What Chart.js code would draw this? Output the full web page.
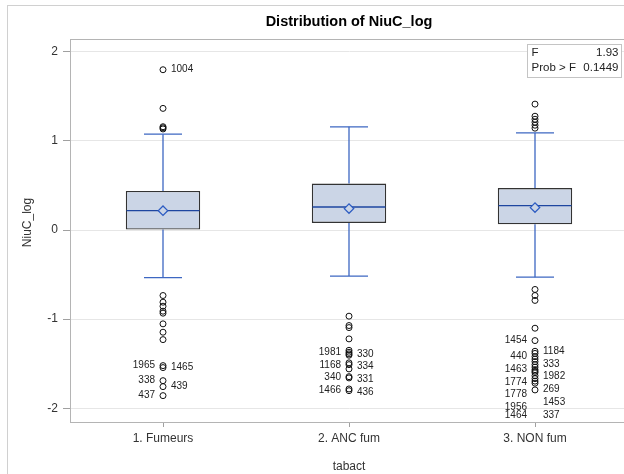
<!DOCTYPE html>
<html><head><meta charset="utf-8">
<script src="https://cdn.jsdelivr.net/npm/chart.js@4"></script>
<style>html,body{margin:0;padding:0;overflow:hidden;background:#fff}#wrap{width:640px;height:474px;position:relative}</style>
</head><body><div id="wrap"><canvas id="c" width="640" height="474"></canvas></div>
<script>
const chartTitle = 'Distribution of NiuC_log';
const xTitle = 'tabact';
const yTitle = 'NiuC_log';
const categories = ['1. Fumeurs', '2. ANC fum', '3. NON fum'];
const yTickValues = [-2, -1, 0, 1, 2];
const q1 = [0.005, 0.079, 0.064];
const medians = [0.218, 0.259, 0.274];
const q3 = [0.439, 0.522, 0.472];
const means = [0.218, 0.241, 0.252];
const whiskerLow = [-0.535, -0.517, -0.529];
const whiskerHigh = [1.077, 1.159, 1.091];

const outlierValuesFumeurs = [1.800, 1.366, 1.160, 1.148, 1.135,
  -0.735, -0.810, -0.855, -0.911, -0.933, -1.053, -1.147, -1.230,
  -1.522, -1.544, -1.691, -1.758, -1.859];
const outlierIdsFumeurs = ['1004', '', '', '', '',
  '', '', '', '', '', '', '', '',
  '1965', '1465', '338', '439', '437'];

const outlierValuesAncFum = [-0.967, -1.072, -1.095, -1.222,
  -1.350, -1.372, -1.390, -1.405, -1.491, -1.511, -1.559, -1.646, -1.660, -1.784, -1.803];
const outlierIdsAncFum = ['', '', '', '',
  '', '1981', '330', '', '1168', '334', '', '340', '331', '1466', '436'];

const outlierValuesNonFum = [1.414, 1.278, 1.244, 1.211, 1.177, 1.144,
  -0.667, -0.735, -0.790, -1.102, -1.241,
  -1.361, -1.385, -1.421, -1.449, -1.477, -1.511, -1.539, -1.567, -1.585, -1.601,
  -1.635, -1.668, -1.696, -1.719, -1.795];
const outlierIdsNonFum = ['', '', '', '', '', '',
  '', '', '', '', '1454',
  '1184', '', '440', '333', '1463', '1982', '1774', '269', '', '1778',
  '1453', '1956', '337', '1464', ''];

const statF = '1.93';
const statProbF = '0.1449';

const outlierGroups = [
  {values: outlierValuesFumeurs, ids: outlierIdsFumeurs},
  {values: outlierValuesAncFum, ids: outlierIdsAncFum},
  {values: outlierValuesNonFum, ids: outlierIdsNonFum}
];

const FONT = '"Liberation Sans", Arial, Helvetica, sans-serif';
const boxFill = '#CBD5E6';
const whiskerColor = '#3D67C2';
const medianColor = '#1E46A0';

const backgroundPlugin = {
  id: 'bg',
  beforeDraw(chart) {
    const {ctx, width, height} = chart;
    ctx.save();
    ctx.fillStyle = '#fff';
    ctx.fillRect(0, 0, width, height);
    ctx.strokeStyle = '#D0D0D0';
    ctx.lineWidth = 1;
    ctx.strokeRect(7.5, 5.5, width + 50, height + 50);
    ctx.restore();
  }
};

const framePlugin = {
  id: 'frame',
  beforeDatasetsDraw(chart) {
    const {ctx, chartArea, scales: {x, y}} = chart;
    ctx.save();
    ctx.strokeStyle = '#B4B4B4';
    ctx.lineWidth = 1;
    ctx.strokeRect(chartArea.left + 0.5, chartArea.top + 0.5, chartArea.right - chartArea.left - 1, chartArea.bottom - chartArea.top);
    ctx.strokeStyle = whiskerColor;
    ctx.lineWidth = 1.3;
    categories.forEach((c, i) => {
      const cx = x.getPixelForValue(i);
      ctx.beginPath();
      ctx.moveTo(cx, y.getPixelForValue(q3[i]));
      ctx.lineTo(cx, y.getPixelForValue(whiskerHigh[i]));
      ctx.moveTo(cx, y.getPixelForValue(q1[i]));
      ctx.lineTo(cx, y.getPixelForValue(whiskerLow[i]));
      ctx.stroke();
    });
    ctx.restore();
  }
};

const overlayPlugin = {
  id: 'overlay',
  afterDatasetsDraw(chart) {
    const {ctx, chartArea, scales: {x, y}} = chart;
    ctx.save();
    // outlier labels
    ctx.font = '10px ' + FONT;
    ctx.fillStyle = '#222';
    ctx.textBaseline = 'middle';
    const gap = 12.7;
    outlierGroups.forEach((grp, g) => {
      const cx = x.getPixelForValue(g);
      const pts = grp.values.map((v, i) => ({v, id: grp.ids[i]})).filter(p => p.id);
      const upper = pts.filter(p => p.v > medians[g]).sort((a, b) => b.v - a.v);
      const lower = pts.filter(p => p.v < medians[g]).sort((a, b) => b.v - a.v);
      const place = (list, startSide) => {
        const last = {left: -Infinity, right: -Infinity};
        list.forEach((p, k) => {
          const side = ((k % 2 === 0) === (startSide === 'left')) ? 'left' : 'right';
          let py = y.getPixelForValue(p.v);
          py = Math.max(py, last[side] + gap);
          py = Math.min(py, chartArea.bottom - 7);
          last[side] = py;
          ctx.textAlign = side === 'left' ? 'right' : 'left';
          ctx.fillText(p.id, side === 'left' ? cx - 8 : cx + 8, py);
        });
      };
      place(upper, 'right');
      place(lower, 'left');
    });
    // inset
    const w = 94, h = 33;
    const left = chartArea.right - 6.5 - w, top = chartArea.top + 5.5;
    ctx.fillStyle = '#fff';
    ctx.fillRect(left, top, w, h);
    ctx.strokeStyle = '#C4C4C4';
    ctx.lineWidth = 1;
    ctx.strokeRect(left, top, w, h);
    ctx.fillStyle = '#222';
    ctx.font = '11.5px ' + FONT;
    ctx.textAlign = 'left';
    ctx.fillText('F', left + 4, top + 8);
    ctx.fillText('Prob > F', left + 4, top + 23.5);
    ctx.textAlign = 'right';
    ctx.fillText(statF, left + w - 3, top + 8);
    ctx.fillText(statProbF, left + w - 3, top + 23.5);
    ctx.restore();
  },
  afterDraw(chart) {
    const {ctx, chartArea} = chart;
    ctx.save();
    ctx.font = 'bold 14.5px ' + FONT;
    ctx.fillStyle = '#000';
    ctx.textAlign = 'center';
    ctx.textBaseline = 'middle';
    ctx.fillText(chartTitle, (chartArea.left + chartArea.right) / 2, 22);
    // y axis title
    ctx.font = '12px ' + FONT;
    ctx.fillStyle = '#333';
    ctx.translate(27.5, (chartArea.top + chartArea.bottom) / 2 - 8);
    ctx.rotate(-Math.PI / 2);
    ctx.fillText(yTitle, 0, 0);
    ctx.restore();
  }
};

const outlierDatasets = outlierGroups.map((grp, g) => ({
  type: 'line',
  showLine: false,
  data: grp.values.map(v => ({x: categories[g], y: v})),
  pointStyle: 'circle',
  pointRadius: 3,
  pointBorderWidth: 1,
  pointBorderColor: '#111',
  pointBackgroundColor: 'rgba(0,0,0,0)',
  order: 2
}));

new Chart(document.getElementById('c'), {
  type: 'bar',
  data: {
    labels: categories,
    datasets: [
      {
        type: 'bar',
        data: categories.map((c, i) => [q1[i], q3[i]]),
        backgroundColor: boxFill,
        borderColor: '#333',
        borderWidth: 1.4,
        borderSkipped: false,
        barPercentage: 0.4,
        categoryPercentage: 1.0,
        order: 10
      },
      {
        type: 'line',
        showLine: false,
        data: categories.flatMap((c, i) => [{x: c, y: whiskerHigh[i]}, {x: c, y: whiskerLow[i]}]),
        pointStyle: 'line',
        pointRadius: 19,
        pointBorderWidth: 1.3,
        pointBorderColor: whiskerColor,
        order: 6
      },
      {
        type: 'line',
        showLine: false,
        data: categories.map((c, i) => ({x: c, y: medians[i]})),
        pointStyle: 'line',
        pointRadius: 36.5,
        pointBorderWidth: 1.4,
        pointBorderColor: medianColor,
        order: 5
      },
      ...outlierDatasets,
      {
        type: 'line',
        showLine: false,
        data: categories.map((c, i) => ({x: c, y: means[i]})),
        pointStyle: 'rectRot',
        pointRadius: 4.7,
        pointBorderWidth: 1.3,
        pointBorderColor: '#2C5BC2',
        pointBackgroundColor: boxFill,
        order: 1
      }
    ]
  },
  options: {
    responsive: false,
    animation: false,
    events: [],
    layout: {autoPadding: false, padding: {top: 39, right: 12, left: 0, bottom: 0}},
    plugins: {legend: {display: false}, title: {display: false}, tooltip: {enabled: false}},
    scales: {
      x: {
        type: 'category',
        offset: true,
        grid: {offset: false, drawOnChartArea: false, drawTicks: true, tickLength: 5, tickColor: '#A0A0A0'},
        border: {color: '#B4B4B4'},
        ticks: {color: '#333', font: {family: FONT, size: 12}, padding: 4, maxRotation: 0},
        title: {display: true, text: xTitle, color: '#333', font: {family: FONT, size: 12}, padding: {top: 0, bottom: 0}},
        afterFit: s => { s.height = 52; }
      },
      y: {
        type: 'linear',
        min: -2.155,
        max: 2.145,
        afterBuildTicks: s => { s.ticks = yTickValues.map(v => ({value: v})); },
        ticks: {color: '#333', font: {family: FONT, size: 12}, padding: 5, includeBounds: false},
        grid: {color: '#E6E6E6', lineWidth: 1, tickLength: 7, tickColor: '#A0A0A0', drawTicks: true},
        border: {color: '#B4B4B4'},
        title: {display: false},
        afterFit: s => { s.width = 70; }
      }
    }
  },
  plugins: [backgroundPlugin, framePlugin, overlayPlugin]
});
</script>
</body></html>
